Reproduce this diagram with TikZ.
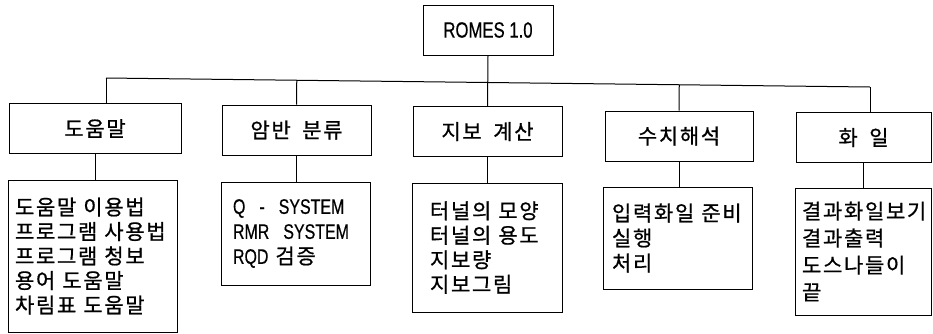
\documentclass[tikz,border=0pt]{standalone}
\usepackage{fontspec}
\setmainfont{Noto Sans CJK KR}[WordSpace=1.8, LetterSpace=8, FakeBold=0.8]
\newfontfamily\lat{Liberation Sans}[FakeStretch=0.76, FakeBold=0.5]
\usetikzlibrary{calc}
\tikzset{
  box/.style={draw=black, line width=1pt, inner sep=0pt, font=\fontsize{21}{25}\selectfont},
  hdr/.style={box, minimum height=50pt},
  lst/.style={box, align=left, inner ysep=0pt},
  wire/.style={draw=black, line width=1pt},
}
\begin{document}
\begin{tikzpicture}[x=1pt, y=-1pt]
  \useasboundingbox (0,0) rectangle (933,333);

  % top
  \node[hdr, minimum width=130pt, font=\fontsize{22}{25}\selectfont] (romes) at (488,30) {\lat ROMES 1.0\hspace{6pt}};

  % second row
  \node[hdr, minimum width=172pt] (help) at (95,128.5) {도움말};
  \node[hdr, minimum width=149pt] (rock) at (296.5,130) {암반 분류};
  \node[hdr, minimum width=149pt] (supp) at (487.5,131.5) {지보 계산};
  \node[hdr, minimum width=148pt] (num)  at (679,136) {수치해석};
  \node[hdr, minimum width=135pt] (file) at (863.5,137.5) {화 일};

  % lists
  \node[lst, inner xsep=7pt, text width=155pt, minimum height=152pt,
        font=\fontsize{21}{24.5}\selectfont] (helpl) at (92.5,256)
    {도움말 이용법\\프로그램 사용법\\프로그램 청보\\용어 도움말\\차림표 도움말};
  \node[lst, inner xsep=12pt, text width=125pt, minimum height=103pt,
        font=\fontsize{21}{25}\selectfont] (rockl) at (295.5,233.5)
    {{\lat Q\ \ -\ \ SYSTEM}\\{\lat RMR\ \ SYSTEM}\\{\lat RQD} 검증};
  \node[lst, inner xsep=18pt, text width=114pt, minimum height=129pt,
        font=\fontsize{21}{24.5}\selectfont] (suppl) at (487,247.5)
    {터널의 모양\\터널의 용도\\지보량\\지보그림};
  \node[lst, inner xsep=9pt, text width=131pt, minimum height=102pt,
        font=\fontsize{21}{25}\selectfont] (numl) at (677.5,238)
    {입력화일 준비\\실행\\처리};
  \node[lst, inner xsep=7pt, text width=122pt, minimum height=127pt,
        font=\fontsize{21}{27}\selectfont] (filel) at (863,251.5)
    {결과화일보기\\결과출력\\도스나들이\\끝};

  % connectors
  \coordinate (bl) at (106,78);
  \coordinate (br) at (870,87);
  \draw[wire] (bl) -- (br);
  \draw[wire] (romes.south) -- (supp.north);
  \draw[wire] (bl) -- (bl |- help.north);
  \draw[wire] (rock.north) -- ($(bl)!(rock.north)!(br)$);
  \draw[wire] (num.north) -- ($(bl)!(num.north)!(br)$);
  \draw[wire] (br) -- (br |- file.north);

  \draw[wire] (help.south) -- (help.south |- helpl.north);
  \draw[wire] (rock.south) -- (rock.south |- rockl.north);
  \draw[wire] (supp.south) -- (supp.south |- suppl.north);
  \draw[wire] (num.south) -- (num.south |- numl.north);
  \draw[wire] (file.south) -- (file.south |- filel.north);
\end{tikzpicture}
\end{document}
